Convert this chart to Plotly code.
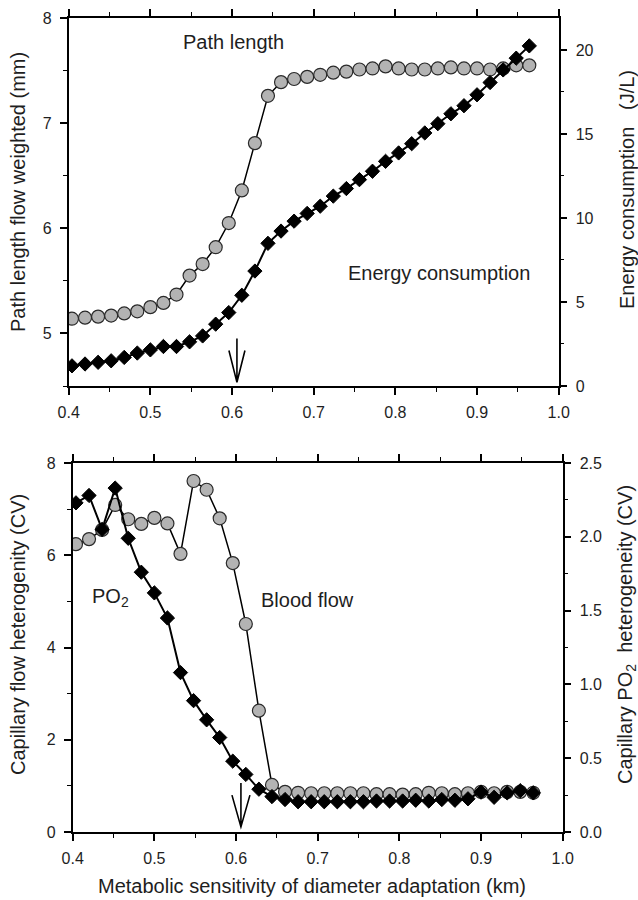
import plotly.graph_objects as go

# ---------------- data ----------------
x_km = [0.404, 0.420, 0.436, 0.452, 0.468, 0.484, 0.500, 0.516, 0.532, 0.548,
        0.564, 0.580, 0.596, 0.612, 0.628, 0.644, 0.660, 0.676, 0.692, 0.708,
        0.724, 0.740, 0.756, 0.772, 0.788, 0.804, 0.820, 0.836, 0.852, 0.868,
        0.884, 0.900, 0.916, 0.932, 0.948, 0.964]

path_length = [5.14, 5.15, 5.16, 5.17, 5.19, 5.21, 5.25, 5.29, 5.37, 5.55,
               5.66, 5.82, 6.05, 6.36, 6.81, 7.26, 7.39, 7.42, 7.44, 7.46,
               7.48, 7.49, 7.51, 7.52, 7.54, 7.52, 7.51, 7.51, 7.52, 7.53,
               7.52, 7.52, 7.51, 7.52, 7.55, 7.55]

energy = [1.20, 1.31, 1.41, 1.50, 1.70, 1.96, 2.15, 2.35, 2.35, 2.63,
          2.98, 3.68, 4.37, 5.40, 6.84, 8.49, 9.22, 9.81, 10.27, 10.70,
          11.30, 11.75, 12.28, 12.78, 13.37, 13.87, 14.42, 15.06, 15.61, 16.20,
          16.68, 17.33, 18.06, 18.81, 19.51, 20.24]

flow_cv = [6.24, 6.35, 6.55, 7.09, 6.78, 6.68, 6.81, 6.69, 6.03, 7.61,
           7.42, 6.80, 5.83, 4.51, 2.63, 1.02, 0.87, 0.85, 0.84, 0.84,
           0.84, 0.84, 0.84, 0.82, 0.82, 0.81, 0.82, 0.85, 0.84, 0.82,
           0.84, 0.87, 0.84, 0.87, 0.87, 0.85]

po2_cv = [2.23, 2.28, 2.05, 2.33, 1.99, 1.76, 1.62, 1.45, 1.08, 0.89,
          0.76, 0.64, 0.48, 0.39, 0.29, 0.24, 0.22, 0.205, 0.205, 0.205,
          0.205, 0.205, 0.205, 0.21, 0.21, 0.21, 0.215, 0.21, 0.22, 0.215,
          0.225, 0.27, 0.235, 0.265, 0.28, 0.265]

x_tickvals = [0.4, 0.5, 0.6, 0.7, 0.8, 0.9, 1.0]
x_ticktext = ["0.4", "0.5", "0.6", "0.7", "0.8", "0.9", "1.0"]
path_ticks = [5, 6, 7, 8]
energy_ticks = [0, 5, 10, 15, 20]
flow_ticks = [0, 2, 4, 6, 8]
po2_ticks = [0.0, 0.5, 1.0, 1.5, 2.0, 2.5]
po2_ticktext = ["0.0", "0.5", "1.0", "1.5", "2.0", "2.5"]

arrow_km = 0.606

# ---------------- styling ----------------
FONT = "Liberation Sans, Arial, sans-serif"
TXT = "#1e1e1e"
W, H = 638, 900
CIRCLE = dict(symbol="circle", size=13, color="#b3b3b3",
              line=dict(color="#2a2a2a", width=1.2))
DIAMOND = dict(symbol="diamond", size=11, color="#000000",
               line=dict(color="#000000", width=1))

fig = go.Figure()

# top panel
fig.add_trace(go.Scatter(x=x_km, y=energy, xaxis="x", yaxis="y2", mode="lines+markers",
                         line=dict(color="black", width=2), marker=DIAMOND))
fig.add_trace(go.Scatter(x=x_km, y=path_length, xaxis="x", yaxis="y", mode="lines+markers",
                         line=dict(color="black", width=1.5), marker=CIRCLE))
# bottom panel
fig.add_trace(go.Scatter(x=x_km, y=po2_cv, xaxis="x2", yaxis="y4", mode="lines+markers",
                         line=dict(color="black", width=2), marker=DIAMOND))
fig.add_trace(go.Scatter(x=x_km, y=flow_cv, xaxis="x2", yaxis="y3", mode="lines+markers",
                         line=dict(color="black", width=1.5), marker=CIRCLE))


def px_x(p):
    return p / W


def px_y(p):
    return (H - p) / H


axis_common = dict(showline=True, linecolor="black", linewidth=1.5, ticks="outside",
                   tickcolor="black", tickwidth=1.5, ticklen=7, showgrid=False,
                   zeroline=False, automargin=False,
                   tickfont=dict(family=FONT, size=16, color=TXT))

fig.update_layout(
    width=W, height=H, margin=dict(l=0, r=0, t=0, b=0),
    plot_bgcolor="white", paper_bgcolor="white", showlegend=False,
    font=dict(family=FONT, color=TXT),
    xaxis=dict(**axis_common, domain=[px_x(68.7), px_x(558.7)], anchor="y",
               range=[0.4, 1.0], tickvals=x_tickvals, ticktext=x_ticktext,
               mirror="ticks", ticklabelstandoff=4,
               minor=dict(dtick=0.05, tick0=0.4, ticks="outside", ticklen=4,
                          tickcolor="black", tickwidth=1.2)),
    yaxis=dict(**axis_common, domain=[px_y(386), px_y(18)], anchor="x",
               range=[4.5, 8.0], tickvals=path_ticks, ticklabelstandoff=5,
               minor=dict(dtick=0.5, tick0=4.5, ticks="outside", ticklen=4,
                          tickcolor="black", tickwidth=1.2)),
    yaxis2=dict(**axis_common, overlaying="y", side="right", anchor="x",
                range=[0, 21.9], tickvals=energy_ticks, ticklabelstandoff=5,
                minor=dict(dtick=2.5, tick0=0, ticks="outside", ticklen=4,
                           tickcolor="black", tickwidth=1.2)),
    xaxis2=dict(**axis_common, domain=[px_x(72.7), px_x(562.7)], anchor="y3",
                range=[0.4, 1.0], tickvals=x_tickvals, ticktext=x_ticktext,
                mirror="ticks", ticklabelstandoff=4,
                minor=dict(dtick=0.05, tick0=0.4, ticks="outside", ticklen=4,
                           tickcolor="black", tickwidth=1.2)),
    yaxis3=dict(**axis_common, domain=[px_y(832), px_y(463)], anchor="x2",
                range=[0, 8], tickvals=flow_ticks, ticklabelstandoff=5,
                minor=dict(dtick=1, tick0=0, ticks="outside", ticklen=4,
                           tickcolor="black", tickwidth=1.2)),
    yaxis4=dict(**axis_common, overlaying="y3", side="right", anchor="x2",
                range=[0, 2.5], tickvals=po2_ticks, ticktext=po2_ticktext,
                ticklabelstandoff=5,
                minor=dict(dtick=0.25, tick0=0, ticks="outside", ticklen=4,
                           tickcolor="black", tickwidth=1.2)),
)

NB = "\u00a0"
title_font = dict(family=FONT, size=20, color=TXT)
annots = [
    dict(text="Path length flow weighted (mm)", x=px_x(18), y=px_y(192), textangle=-90),
    dict(text="Energy consumption" + NB * 3 + "(J/L)", x=px_x(627), y=px_y(190), textangle=-90),
    dict(text="Capillary flow heterogenity (CV)", x=px_x(18), y=px_y(635), textangle=-90),
    dict(text="Capillary PO<sub>2</sub>" + NB * 2 + "heterogeneity (CV)", x=px_x(627),
         y=px_y(635), textangle=-90),
    dict(text="Metabolic sensitivity of diameter adaptation (km)", x=px_x(312), y=px_y(886)),
    dict(text="Path length", x=px_x(233), y=px_y(42)),
    dict(text="Energy consumption", x=px_x(439), y=px_y(273)),
    dict(text="PO<sub>2</sub>", x=px_x(110), y=px_y(597)),
    dict(text="Blood flow", x=px_x(307), y=px_y(600)),
]
fig.update_layout(annotations=[dict(**a, xref="paper", yref="paper", showarrow=False,
                                    xanchor="center", yanchor="middle", font=title_font)
                               for a in annots])

# arrows marking the optimum sensitivity
def arrow_path(x, y_top, y_wing, y_tip, dx):
    return (f"M {x},{y_top} L {x},{y_tip} "
            f"M {x - dx},{y_wing} L {x},{y_tip} L {x + dx},{y_wing}")

fig.update_layout(shapes=[
    dict(type="path", xref="x", yref="y",
         path=arrow_path(arrow_km, 4.952, 4.838, 4.535, 0.0098),
         line=dict(color="black", width=1.6)),
    dict(type="path", xref="x2", yref="y3",
         path=arrow_path(arrow_km, 1.06, 0.80, 0.11, 0.011),
         line=dict(color="black", width=1.6)),
])

fig.write_html("out.html")
